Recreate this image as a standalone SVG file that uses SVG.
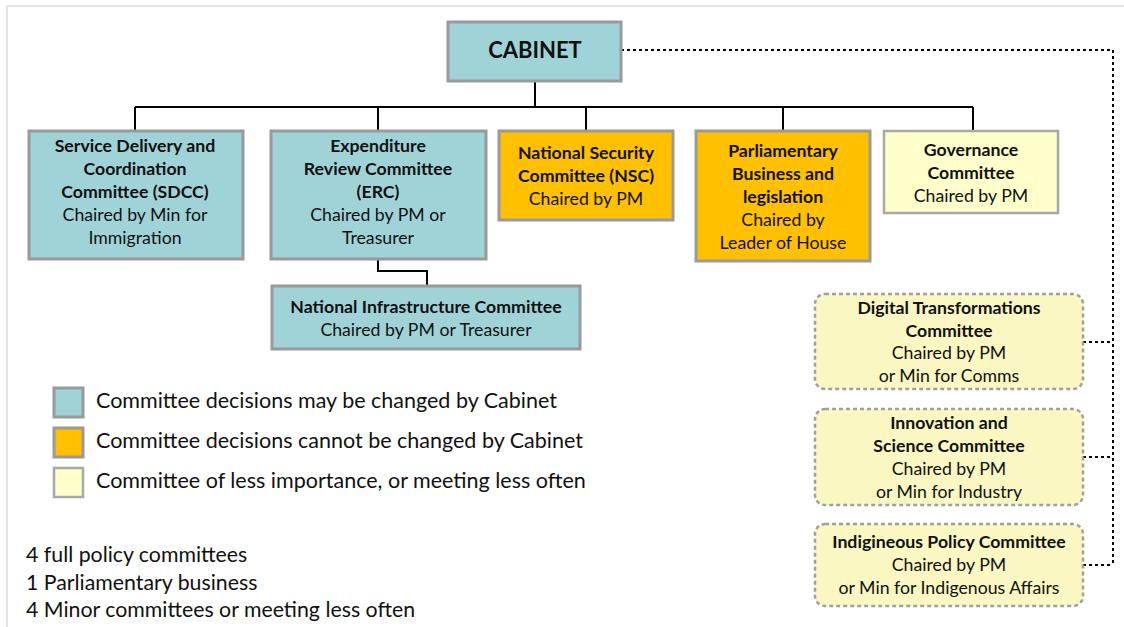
<svg xmlns="http://www.w3.org/2000/svg" width="1124" height="627" viewBox="0 0 1124 627">
  <style>
    text { font-family: Lato, "Open Sans", "Liberation Sans", sans-serif; fill: #111; text-anchor: middle; }
    .b { font-weight: bold; }
    .t { font-size: 17.7px; }
    .teal { fill: #A0D3D8; stroke: #9a9a9a; stroke-width: 3; }
    .orange { fill: #FFC000; stroke: #9a9a9a; stroke-width: 3; }
    .pale { fill: #FFFFCC; stroke: #a8a8a8; stroke-width: 2.5; }
    .minor { fill: #FAF7C3; stroke: #a0a0a0; stroke-width: 2.5; stroke-dasharray: 4 3; }
    .solid { fill: none; stroke: #000; stroke-width: 2; }
    .dot { fill: none; stroke: #000; stroke-width: 2; stroke-dasharray: 3 3; }
    .leg { font-size: 21.5px; text-anchor: start; }
    .note { font-size: 21.3px; text-anchor: start; }
  </style>

  <rect x="0" y="0" width="1124" height="627" fill="#fff"/>
  <!-- outer frame -->
  <path d="M7 627 V6 H1124" fill="none" stroke="#dcdcdc" stroke-width="1.5"/>

  <!-- connectors -->
  <g id="connectors">
    <path class="solid" d="M535 82 V107 M135 107 H973 M135 107 V131 M378 107 V131 M586 107 V131 M783 107 V131 M973 107 V131"/>
    <path class="solid" d="M378 259 V271 H427 V286"/>
    <path class="dot" d="M621 50 H1113 V565 M1083 342 H1113 M1083 457 H1113 M1083 565 H1113"/>
  </g>

  <g id="cabinet">
    <rect class="teal" x="448" y="22" width="173" height="59"/>
    <text class="b" x="535" y="58" font-size="22">CABINET</text>
  </g>

  <g id="sdcc">
    <rect class="teal" x="29" y="131" width="214" height="128"/>
    <text class="t" x="135"><tspan class="b" x="135" y="152">Service Delivery and</tspan><tspan class="b" x="135" y="175">Coordination</tspan><tspan class="b" x="135" y="198">Committee (SDCC)</tspan><tspan x="135" y="221">Chaired by Min for</tspan><tspan x="135" y="244">Immigration</tspan></text>
  </g>

  <g id="erc">
    <rect class="teal" x="271" y="131" width="215" height="128"/>
    <text class="t" x="378"><tspan class="b" x="378" y="152">Expenditure</tspan><tspan class="b" x="378" y="175">Review Committee</tspan><tspan class="b" x="378" y="198">(ERC)</tspan><tspan x="378" y="221">Chaired by PM or</tspan><tspan x="378" y="244">Treasurer</tspan></text>
  </g>

  <g id="nsc">
    <rect class="orange" x="499" y="131" width="174" height="89"/>
    <text class="t" x="586"><tspan class="b" x="586" y="159">National Security</tspan><tspan class="b" x="586" y="182">Committee (NSC)</tspan><tspan x="586" y="205">Chaired by PM</tspan></text>
  </g>

  <g id="parliamentary">
    <rect class="orange" x="696" y="131" width="174" height="130"/>
    <text class="t" x="783"><tspan class="b" x="783" y="157">Parliamentary</tspan><tspan class="b" x="783" y="180">Business and</tspan><tspan class="b" x="783" y="203">legislation</tspan><tspan x="783" y="226">Chaired by</tspan><tspan x="783" y="249">Leader of House</tspan></text>
  </g>

  <g id="governance">
    <rect class="pale" x="884" y="131" width="174" height="82"/>
    <text class="t" x="971"><tspan class="b" x="971" y="156">Governance</tspan><tspan class="b" x="971" y="179">Committee</tspan><tspan x="971" y="202">Chaired by PM</tspan></text>
  </g>

  <g id="infrastructure">
    <rect class="teal" x="272" y="286" width="308" height="63"/>
    <text class="t" x="426"><tspan class="b" x="426" y="313">National Infrastructure Committee</tspan><tspan x="426" y="336">Chaired by PM or Treasurer</tspan></text>
  </g>

  <g id="digital">
    <rect class="minor" x="815" y="294" width="268" height="95" rx="10"/>
    <text class="t" x="949"><tspan class="b" x="949" y="314">Digital Transformations</tspan><tspan class="b" x="949" y="337">Committee</tspan><tspan x="949" y="359">Chaired by PM</tspan><tspan x="949" y="382">or Min for Comms</tspan></text>
  </g>

  <g id="innovation">
    <rect class="minor" x="815" y="409" width="268" height="96" rx="10"/>
    <text class="t" x="949"><tspan class="b" x="949" y="429">Innovation and</tspan><tspan class="b" x="949" y="452">Science Committee</tspan><tspan x="949" y="475">Chaired by PM</tspan><tspan x="949" y="498">or Min for Industry</tspan></text>
  </g>

  <g id="indigenous">
    <rect class="minor" x="815" y="524" width="268" height="82" rx="10"/>
    <text class="t" x="949"><tspan class="b" x="949" y="548">Indigineous Policy Committee</tspan><tspan x="949" y="571">Chaired by PM</tspan><tspan x="949" y="594">or Min for Indigenous Affairs</tspan></text>
  </g>

  <g id="legend">
    <rect class="teal" x="54" y="388" width="29" height="29" stroke-width="2"/>
    <rect class="orange" x="54" y="428" width="29" height="29" stroke-width="2"/>
    <rect class="pale" x="54" y="468" width="29" height="29" stroke-width="2"/>
    <text class="leg" x="96" y="408">Committee decisions may be changed by Cabinet</text>
    <text class="leg" x="96" y="448">Committee decisions cannot be changed by Cabinet</text>
    <text class="leg" x="96" y="488">Committee of less importance, or meeting less often</text>
  </g>

  <g id="notes">
    <text class="note" x="26" y="562">4 full policy committees</text>
    <text class="note" x="26" y="590">1 Parliamentary business</text>
    <text class="note" x="26" y="617">4 Minor committees or meeting less often</text>
  </g>
</svg>
